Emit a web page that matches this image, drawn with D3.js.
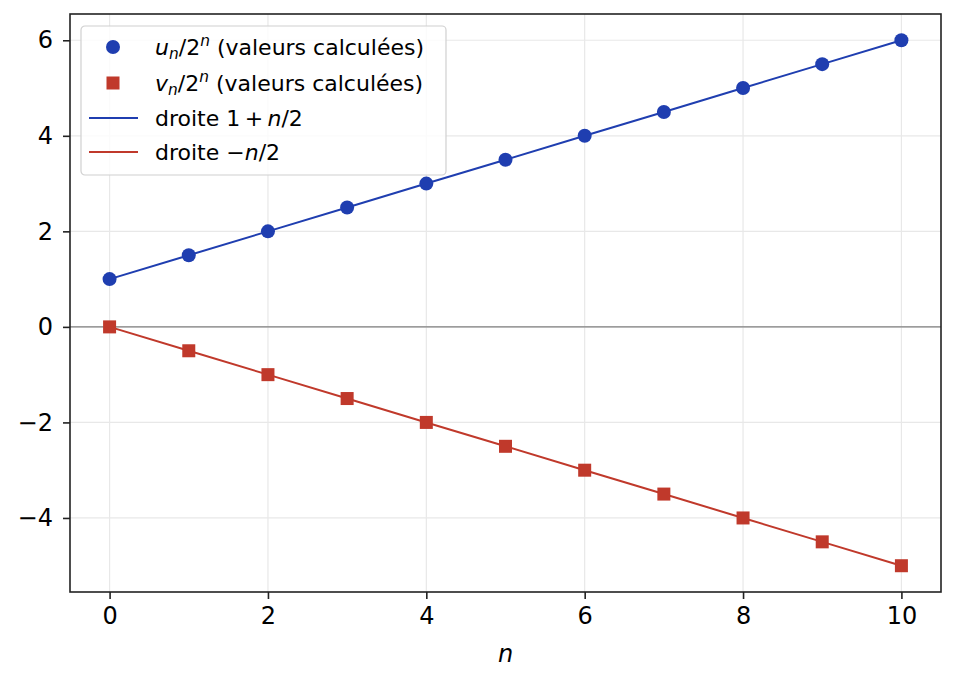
<!DOCTYPE html>
<html>
<head>
<meta charset="utf-8">
<script src="https://cdn.jsdelivr.net/npm/d3@7"></script>
<style>
  body { margin: 0; background: #fff; }
  text { font-family: "DejaVu Sans", sans-serif; }
</style>
</head>
<body>
<div id="chart"></div>
<script>
// data
const nValues = [0, 1, 2, 3, 4, 5, 6, 7, 8, 9, 10];
const uValues = [1, 1.5, 2, 2.5, 3, 3.5, 4, 4.5, 5, 5.5, 6];
const vValues = [0, -0.5, -1, -1.5, -2, -2.5, -3, -3.5, -4, -4.5, -5];
const xTicks = [0, 2, 4, 6, 8, 10];
const yTicks = [-4, -2, 0, 2, 4, 6];

const blue = "#1f3eb0", red = "#c0392b";

const W = 956, H = 684;
const margin = { top: 14, right: 15, bottom: 92, left: 70 },
  width = W - margin.left - margin.right,
  height = H - margin.top - margin.bottom;

const svg = d3.select("#chart").append("svg")
  .attr("width", W).attr("height", H);
const g = svg.append("g").attr("transform", `translate(${margin.left},${margin.top})`);

const x = d3.scaleLinear().domain([-0.5, 10.5]).range([0, width]);
const y = d3.scaleLinear().domain([-5.55, 6.55]).range([height, 0]);

// grid
g.append("g").selectAll("line").data(xTicks).join("line")
  .attr("x1", d => x(d)).attr("x2", d => x(d))
  .attr("y1", 0).attr("y2", height)
  .attr("stroke", "#e8e8e8").attr("stroke-width", 1.2);
g.append("g").selectAll("line").data(yTicks).join("line")
  .attr("y1", d => y(d)).attr("y2", d => y(d))
  .attr("x1", 0).attr("x2", width)
  .attr("stroke", "#e8e8e8").attr("stroke-width", 1.2);

// zero line
g.append("line")
  .attr("x1", 0).attr("x2", width)
  .attr("y1", y(0)).attr("y2", y(0))
  .attr("stroke", "#808080").attr("stroke-width", 1.2);

// lines
const line = d3.line().x(d => x(d[0])).y(d => y(d[1]));
g.append("path").datum(nValues.map((n, i) => [n, uValues[i]]))
  .attr("d", line).attr("fill", "none").attr("stroke", blue).attr("stroke-width", 2);
g.append("path").datum(nValues.map((n, i) => [n, vValues[i]]))
  .attr("d", line).attr("fill", "none").attr("stroke", red).attr("stroke-width", 2);

// markers
g.append("g").selectAll("circle").data(nValues).join("circle")
  .attr("cx", d => x(d)).attr("cy", (d, i) => y(uValues[i]))
  .attr("r", 7).attr("fill", blue);
g.append("g").selectAll("rect").data(nValues).join("rect")
  .attr("x", d => x(d) - 6.5).attr("y", (d, i) => y(vValues[i]) - 6.5)
  .attr("width", 13).attr("height", 13).attr("fill", red);

// axes
const xAxis = g.append("g").attr("transform", `translate(0,${height})`)
  .call(d3.axisBottom(x).tickValues(xTicks).tickSize(7).tickPadding(8).tickFormat(d3.format("d")));
const yAxis = g.append("g")
  .call(d3.axisLeft(y).tickValues(yTicks).tickSize(7).tickPadding(10)
    .tickFormat(d => d < 0 ? "\u2212" + Math.abs(d) : d));
[xAxis, yAxis].forEach(a => {
  a.select(".domain").remove();
  a.attr("font-size", null).attr("font-family", null);
  a.selectAll(".tick line").attr("stroke", "#222").attr("stroke-width", 1.6);
  a.selectAll(".tick text").style("font-size", "24px").attr("fill", "#000")
    .style("font-family", "DejaVu Sans");
});

// frame
g.append("rect").attr("width", width).attr("height", height)
  .attr("fill", "none").attr("stroke", "#222").attr("stroke-width", 1.6);

// x label
g.append("text").attr("x", x(5)).attr("y", height + 70)
  .attr("text-anchor", "middle").style("font-size", "24px").attr("font-style", "italic")
  .text("n");

// legend
const leg = g.append("g").attr("transform", "translate(11,12)");
leg.append("rect").attr("width", 365).attr("height", 149).attr("rx", 4)
  .attr("fill", "#fff").attr("fill-opacity", 0.8)
  .attr("stroke", "#d0d0d0").attr("stroke-width", 1.2);

const rowY = [21, 57, 92, 126];
leg.append("circle").attr("cx", 32).attr("cy", rowY[0]).attr("r", 7).attr("fill", blue);
leg.append("rect").attr("x", 25.5).attr("y", rowY[1] - 6.5).attr("width", 13).attr("height", 13).attr("fill", red);
leg.append("line").attr("x1", 8).attr("x2", 57).attr("y1", rowY[2]).attr("y2", rowY[2])
  .attr("stroke", blue).attr("stroke-width", 2);
leg.append("line").attr("x1", 8).attr("x2", 57).attr("y1", rowY[3]).attr("y2", rowY[3])
  .attr("stroke", red).attr("stroke-width", 2);

const fs = 22;
function mathLabel(yy, letter) {
  const t = leg.append("text").attr("x", 74).attr("y", yy + 8).style("font-size", fs + "px");
  t.append("tspan").attr("font-style", "italic").text(letter);
  t.append("tspan").attr("font-style", "italic").style("font-size", (fs * 0.7) + "px").attr("dy", 4).text("n");
  t.append("tspan").attr("dy", -4).text("/2");
  t.append("tspan").attr("font-style", "italic").style("font-size", (fs * 0.7) + "px").attr("dy", -9).text("n");
  t.append("tspan").attr("dy", 9).text(" (valeurs calculées)");
}
mathLabel(rowY[0], "u");
mathLabel(rowY[1], "v");

const t3 = leg.append("text").attr("x", 74).attr("y", rowY[2] + 8).style("font-size", fs + "px");
t3.append("tspan").text("droite 1\u2009+\u2009");
t3.append("tspan").attr("font-style", "italic").text("n");
t3.append("tspan").text("/2");

const t4 = leg.append("text").attr("x", 74).attr("y", rowY[3] + 8).style("font-size", fs + "px");
t4.append("tspan").text("droite \u2212");
t4.append("tspan").attr("font-style", "italic").text("n");
t4.append("tspan").text("/2");
</script>
</body>
</html>
